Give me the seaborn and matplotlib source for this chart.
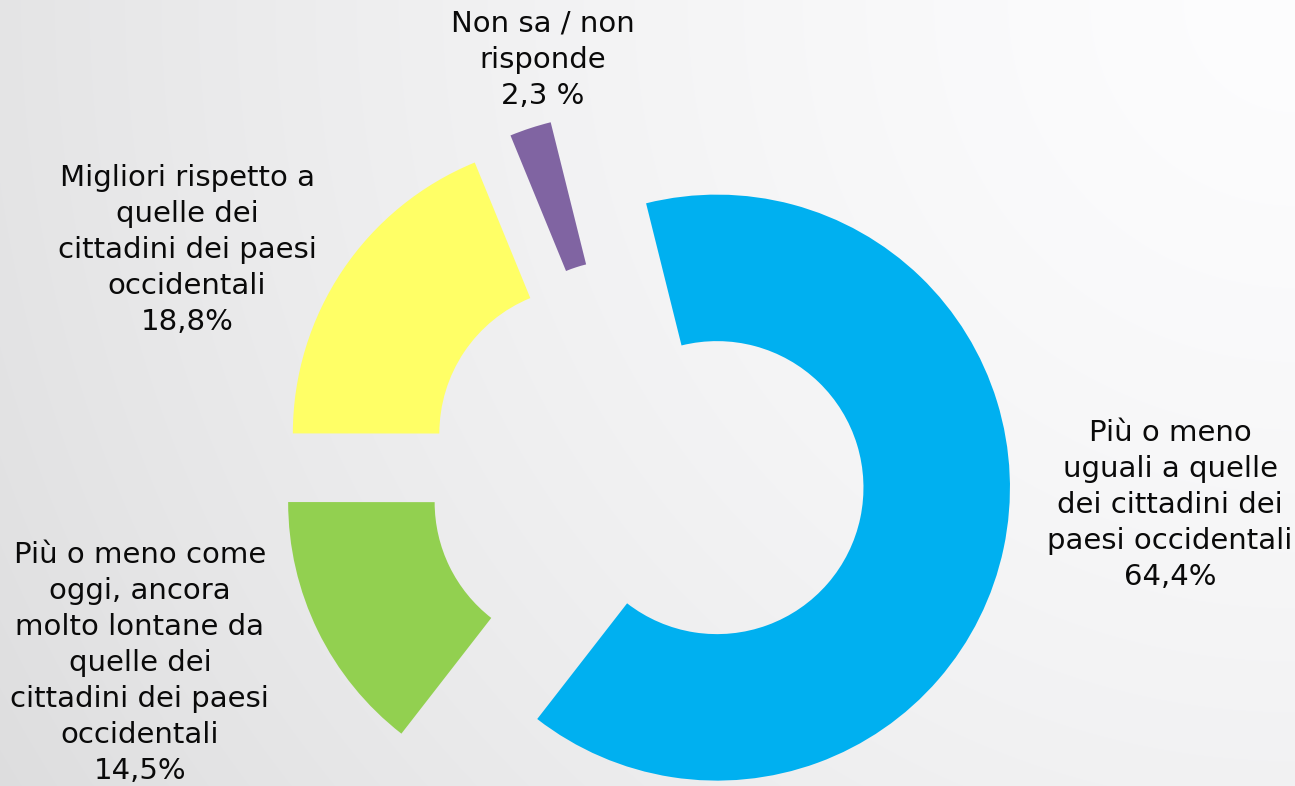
import numpy as np
import matplotlib
matplotlib.use("Agg")
import matplotlib.pyplot as plt
import seaborn as sns

# ---- data ----
categories = [
    "Più o meno\nuguali a quelle\ndei cittadini dei\npaesi occidentali",
    "Più o meno come\noggi, ancora\nmolto lontane da\nquelle dei\ncittadini dei paesi\noccidentali",
    "Migliori rispetto a\nquelle dei\ncittadini dei paesi\noccidentali",
    "Non sa / non\nrisponde",
]
values = [64.4, 14.5, 18.8, 2.3]
pct_labels = ["64,4%", "14,5%", "18,8%", "2,3 %"]
colors = ["#00B0F0", "#92D050", "#FFFF66", "#8064A2"]

sns.set_theme(style="white")
plt.rcParams['font.family'] = ['DejaVu Sans']

W, H = 1295, 786
fig = plt.figure(figsize=(W / 100, H / 100), dpi=100)
ax = fig.add_axes([0, 0, 1, 1])

scale = 293.0
ox, oy = 643.0, 472.0
xlim = (-ox / scale, (W - ox) / scale)
ylim = (-(H - oy) / scale, oy / scale)

# background gradient (radial from top-right corner)
yy, xx = np.mgrid[0:H, 0:W]
d = np.hypot(xx - W, yy)
v = (253 - 0.008 * d - 8.5e-6 * d ** 2) / 255.0
v = np.clip(v, 0, 1)
bg = np.dstack([v, v, np.clip(v + 0.004, 0, 1)])
ax.imshow(bg, extent=[xlim[0], xlim[1], ylim[0], ylim[1]], aspect='auto',
          zorder=0, origin='upper')

ax.pie(values, colors=sns.color_palette(colors), startangle=104,
       counterclock=False, explode=[0.258, 0.235, 0.235, 0.235], radius=1.0,
       wedgeprops=dict(width=0.5, edgecolor='none'))

label_pos = [(1.799, -0.113), (-1.717, -0.652), (-1.556, 0.758), (-0.341, 1.406)]
for (x, y), cat, pct in zip(label_pos, categories, pct_labels):
    ax.text(x, y, cat + "\n" + pct, ha='center', va='center', fontsize=21,
            color='#0a0a0a', linespacing=1.37, zorder=5)

ax.set_xlim(*xlim)
ax.set_ylim(*ylim)
ax.set_aspect('auto')
ax.axis('off')

fig.savefig("out.png", dpi=100)
